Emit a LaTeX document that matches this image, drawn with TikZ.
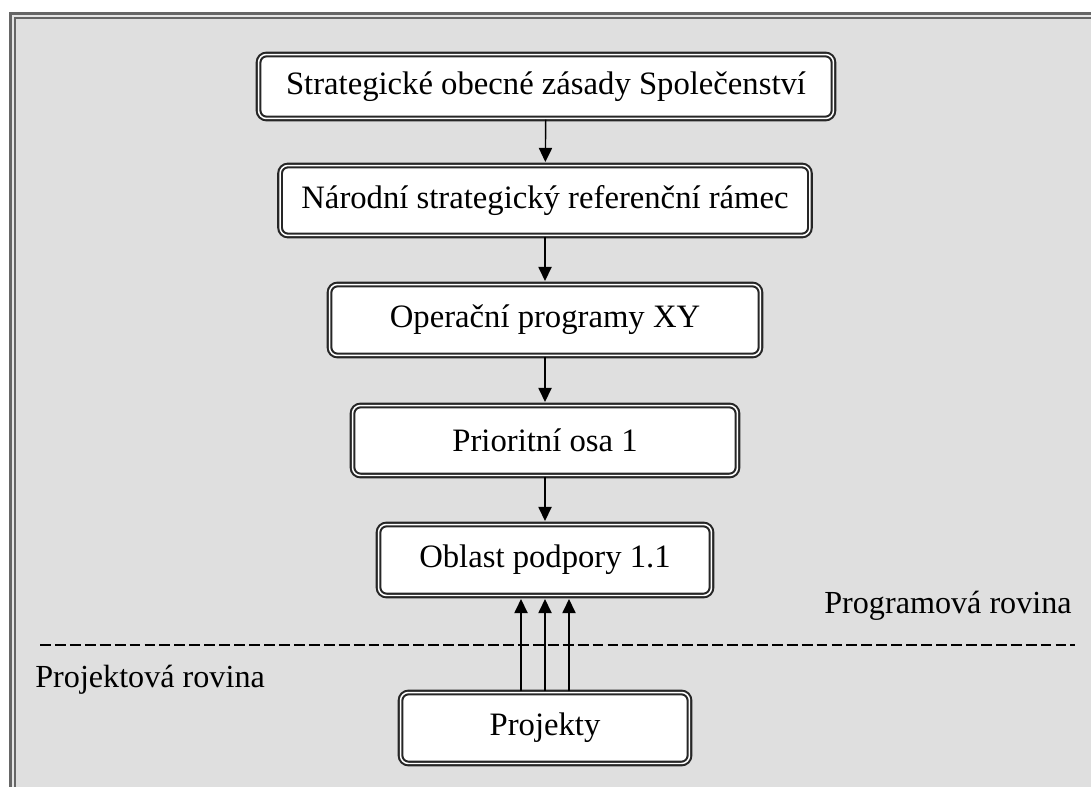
\documentclass[tikz,border=0pt]{standalone}
\usepackage{fontspec}
\setmainfont{Liberation Serif}
\usetikzlibrary{arrows.meta}

\begin{document}
\begin{tikzpicture}[x=0.02cm, y=-0.02cm,
		level/.style={draw=black!85, line width=1.2pt, double=white, double distance=0.85pt, rounded corners=4.5pt, fill=white, inner sep=0pt, minimum height=1.42cm, font=\fontsize{18.6}{21}\selectfont},
		flow/.style={line width=0.8pt, -{Triangle[length=8pt, width=7.5pt]}, shorten >=1.4pt},
		frameline/.style={line width=1.2pt, color=black!60},
		rovina/.style={inner sep=0pt, font=\fontsize{18.3}{21}\selectfont}]
		%%%%% START %%%%%
		
		\useasboundingbox[fill=white] (0, 0) rectangle (1091, 787);
		
		% frame
		\fill[black!10] (10.5, 13.5) rectangle (1091, 787);
		\fill[color={rgb,255:red,223;green,223;blue,223}] (15, 18.3) rectangle (1091, 787);
		\draw[frameline] (10.5, 787) -- (10.5, 13.5) -- (1091, 13.5);
		\draw[frameline] (15, 787) -- (15, 18.3) -- (1091, 18.3);
		
		% levels
		\node[level, minimum width=11.5cm, minimum height=1.28cm] (zasady) at (546, 86.5) {Strategické obecné zásady Společenství};
		\node[level, minimum width=10.6cm, minimum height=1.4cm] (ramec) at (545, 200.5) {Národní strategický referenční rámec};
		\node[level, minimum width=8.62cm] (programy) at (545, 320) {Operační programy XY};
		\node[level, minimum width=7.7cm, minimum height=1.4cm] (osa) at (545, 440.5) {Prioritní osa 1};
		\node[level, minimum width=6.66cm] (oblast) at (545, 560) {Oblast podpory 1.1};
		\node[level, minimum width=5.78cm] (projekty) at (545, 728) {Projekty};
		
		\draw[flow] (zasady) -- (ramec);
		\draw[flow] (ramec) -- (programy);
		\draw[flow] (programy) -- (osa);
		\draw[flow] (osa) -- (oblast);
		
		\draw[flow] ([xshift=-0.48cm]projekty.north) -- ([xshift=-0.48cm]oblast.south);
		\draw[flow] (projekty.north) -- (oblast.south);
		\draw[flow] ([xshift=0.48cm]projekty.north) -- ([xshift=0.48cm]oblast.south);
		
		% roviny
		\draw[line width=0.6pt, dash pattern=on 6.2pt off 2.3pt] (40, 645) -- (1075, 645);
		\node[rovina, anchor=base east] (programova) at (1072, 613) {Programová rovina};
		\node[rovina, anchor=base west] (projektova) at (35, 687) {Projektová rovina};
		
		%%%%% END %%%%%
	\end{tikzpicture}
\end{document}
